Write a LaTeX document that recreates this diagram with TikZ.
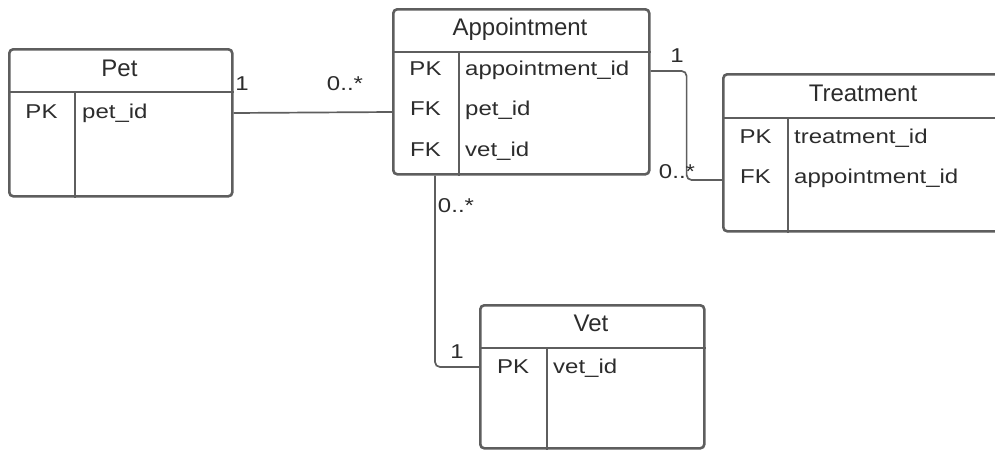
\documentclass[tikz,border=0pt]{standalone}
\usepackage{fontspec}
\setmainfont{Liberation Sans}
\newfontfamily\wideface{Liberation Sans}[FakeStretch=1.2]
\usetikzlibrary{positioning}

\definecolor{linegray}{HTML}{5E5E5E}
\definecolor{txtgray}{HTML}{2C2C2C}

\begin{document}
\begin{tikzpicture}[x=1pt,y=-1pt,
		entity/.style={draw=linegray, line width=2.6pt, rounded corners=4pt,
			anchor=north west, inner sep=0pt},
		sep/.style={draw=linegray, line width=2.6pt},
		title/.style={text=txtgray, anchor=base, font=\fontsize{24}{28}\selectfont},
		key/.style={text=txtgray, anchor=base, inner sep=0pt,
			font=\wideface\fontsize{20}{24}\selectfont},
		field/.style={text=txtgray, anchor=base west, inner sep=0pt,
			font=\wideface\fontsize{20}{24}\selectfont},
		mult/.style={text=txtgray, anchor=base, inner sep=0pt,
			font=\wideface\fontsize{20}{24}\selectfont},
		conn/.style={draw=linegray, line width=1.7pt, rounded corners=5pt}]

		\useasboundingbox (0,0) rectangle (995,450);

		% Pet
		\node[entity, minimum width=223pt, minimum height=147pt] (pet) at (8,48) {};
		\node[title] (pettitle) at (119.5,76) {Pet};
		\draw[sep] (pet.west |- 0,92) -- (pet.east |- 0,92) (75,92) -- (pet.south -| 75,0);
		\node[key] (petpk) at (41.5,118) {PK};
		\node[field] (petid) at (82,118) {pet\_id};

		% Appointment
		\node[entity, minimum width=256pt, minimum height=165pt] (appt) at (392,8) {};
		\node[title] (appttitle) at (520,35) {Appointment};
		\draw[sep] (appt.west |- 0,52) -- (appt.east |- 0,52) (459,52) -- (appt.south -| 459,0);
		\node[key] (apptpk) at (425.5,75) {PK};
		\node[field] (apptid) at (465,75) {appointment\_id};
		\node[key] (apptfkone) at (425.5,115.5) {FK};
		\node[field] (apptpet) at (465,115.5) {pet\_id};
		\node[key] (apptfktwo) at (425.5,156) {FK};
		\node[field] (apptvet) at (465,156) {vet\_id};

		% Treatment
		\node[entity, minimum width=282pt, minimum height=157pt] (treat) at (722,73) {};
		\node[title] (treattitle) at (863,101) {Treatment};
		\draw[sep] (treat.west |- 0,118) -- (treat.east |- 0,118) (788,118) -- (treat.south -| 788,0);
		\node[key] (treatpk) at (755.5,143) {PK};
		\node[field] (treatid) at (794,143) {treatment\_id};
		\node[key] (treatfk) at (755.5,183) {FK};
		\node[field] (treatappt) at (794,183) {appointment\_id};

		% Vet
		\node[entity, minimum width=224pt, minimum height=143pt] (vet) at (479,304) {};
		\node[title] (vettitle) at (591,331) {Vet};
		\draw[sep] (vet.west |- 0,348) -- (vet.east |- 0,348) (547,348) -- (vet.south -| 547,0);
		\node[key] (vetpk) at (513,373) {PK};
		\node[field] (vetid) at (553,373) {vet\_id};

		% relations
		\draw[conn] (pet.east |- 0,113) -- (appt.west |- 0,112);
		\draw[conn] (appt.east |- 0,71) -- ++(36,0) |- (treat.west |- 0,180);
		\draw[conn] ([xshift=43pt]appt.south west) |- (vet.west |- 0,367);

		\node[mult] (petone) at (242,90) {1};
		\node[mult] (petmany) at (345,90) {0..*};
		\node[mult] (treatone) at (677,62) {1};
		\node[mult] (treatmany) at (677,178) {0..*};
		\node[mult] (vetmany) at (456,212) {0..*};
		\node[mult] (vetone) at (457,358) {1};
	\end{tikzpicture}
\end{document}
